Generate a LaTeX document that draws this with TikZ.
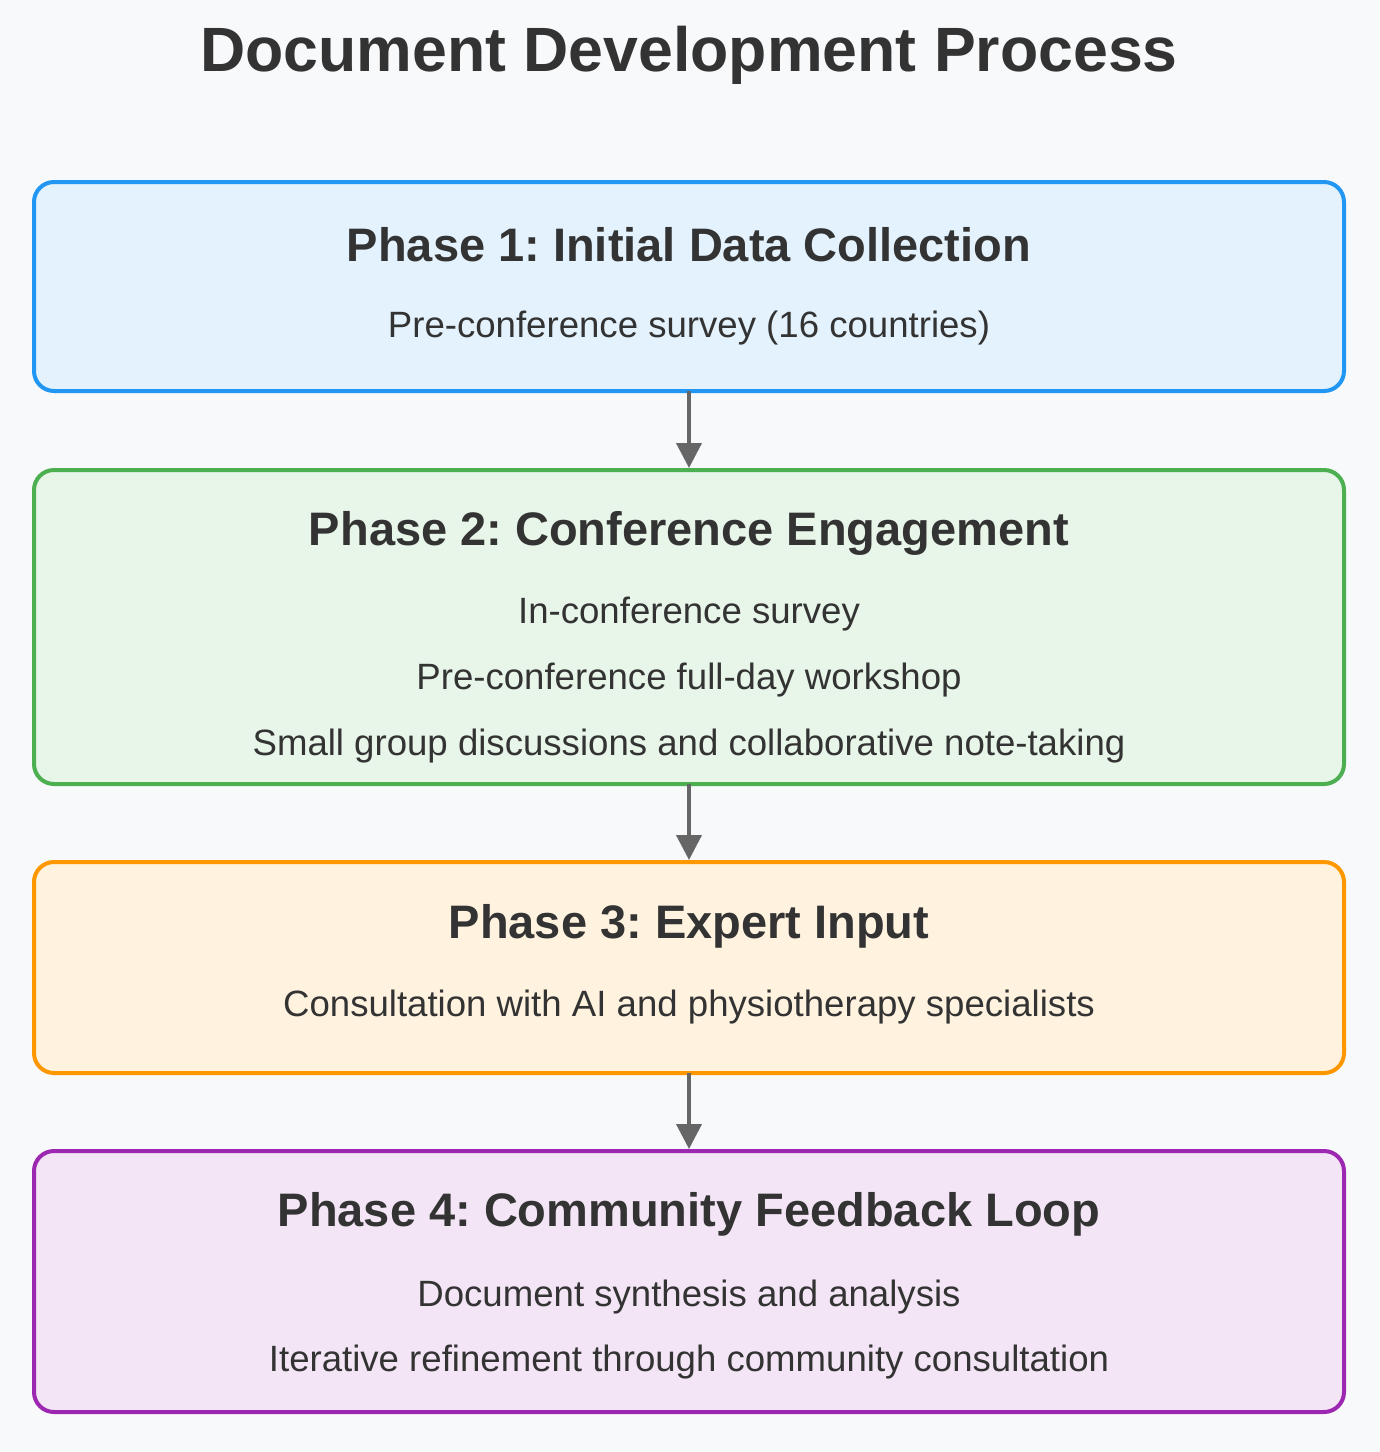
\documentclass[tikz,border=0pt]{standalone}
\usepackage{fontspec}
\setmainfont{Liberation Sans}
\frenchspacing
\usetikzlibrary{arrows.meta,positioning}
\definecolor{pagebg}{HTML}{F8F9FA}
\definecolor{inktext}{HTML}{333333}
\definecolor{flowgray}{HTML}{666666}
\definecolor{blueline}{HTML}{2196F3}
\definecolor{bluefill}{HTML}{E3F2FD}
\definecolor{greenline}{HTML}{4CAF50}
\definecolor{greenfill}{HTML}{E8F5E9}
\definecolor{orangeline}{HTML}{FF9800}
\definecolor{orangefill}{HTML}{FFF3E0}
\definecolor{purpleline}{HTML}{9C27B0}
\definecolor{purplefill}{HTML}{F3E5F5}
\tikzset{
    %Define style for the title
    heading/.style={
           font=\bfseries\fontsize{31.3pt}{36pt}\selectfont,
           text=inktext},
    %Define style for phase boxes
    phasebox/.style 2 args={
           rectangle,
           rounded corners=10pt,
           draw=#1, fill=#2,
           line width=2pt,
           minimum width=655pt,
           inner sep=0pt,
           outer sep=0pt},
    %Define style for texts in boxes
    phasetitle/.style={
           font=\bfseries\fontsize{23.5pt}{28pt}\selectfont,
           text=inktext},
    detail/.style={
           font=\fontsize{18.3pt}{22pt}\selectfont,
           text=inktext},
    % Define arrow style
    imply/.style={
           -{Triangle[length=12.5pt,width=12.5pt]},
           draw=flowgray,
           line width=2pt,
           shorten >=1pt}
}
\begin{document}
\begin{tikzpicture}[x=0.5pt,y=-0.5pt]
 %background
    \fill[pagebg] (0,0) rectangle (1380,1452);
    \useasboundingbox (0,0) rectangle (1380,1452);
 %title
    \node[heading] (title) at (689,55) {Document Development Process};
 %boxes
    \node[phasebox={blueline}{bluefill}, minimum height=104.5pt] (p1) at (689,286.5) {};
    \node[phasebox={greenline}{greenfill}, minimum height=157pt, below=39.5pt of p1] (p2) {};
    \node[phasebox={orangeline}{orangefill}, minimum height=105.5pt, below=39pt of p2] (p3) {};
    \node[phasebox={purpleline}{purplefill}, minimum height=130.5pt, below=39pt of p3] (p4) {};
 %texts
    \node[phasetitle] (t1) at (689,245) {Phase 1: Initial Data Collection};
    \node[detail] (d11) at (689,328) {Pre-conference survey (16 countries)};
    \node[phasetitle] (t2) at (689,533) {Phase 2: Conference Engagement};
    \node[detail] (d21) at (689,614) {In-conference survey};
    \node[detail] (d22) at (689,680) {Pre-conference full-day workshop};
    \node[detail] (d23) at (689,746) {Small group discussions and collaborative note-taking};
    \node[phasetitle] (t3) at (689,926) {Phase 3: Expert Input};
    \node[detail] (d31) at (689,1007) {Consultation with AI and physiotherapy specialists};
    \node[phasetitle] (t4) at (689,1214) {Phase 4: Community Feedback Loop};
    \node[detail] (d41) at (689,1297) {Document synthesis and analysis};
    \node[detail] (d42) at (689,1362) {Iterative refinement through community consultation};
 %edges
    \draw[imply] (p1.south) -- (p2.north);
    \draw[imply] (p2.south) -- (p3.north);
    \draw[imply] (p3.south) -- (p4.north);
\end{tikzpicture}
\end{document}
